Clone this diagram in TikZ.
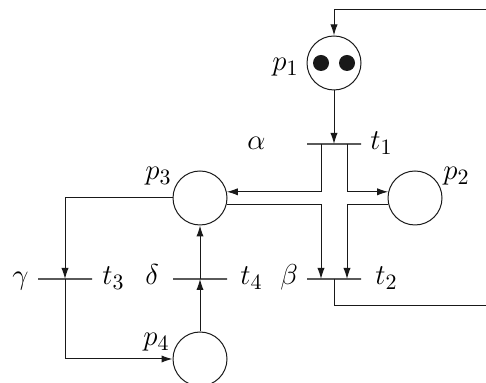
\documentclass[tikz,border=0pt]{standalone}
\usepackage{tikz}
\usetikzlibrary{arrows.meta}
\definecolor{mydark}{RGB}{25,25,25}
\definecolor{bargray}{RGB}{90,90,90}
\tikzset{
  place/.style={circle, draw=mydark, minimum size=27pt, inner sep=0pt, line width=0.5pt},
  transbar/.style={rectangle, draw=bargray, minimum width=27pt, minimum height=0pt,
    inner sep=0pt, outer sep=0pt, line width=0.75pt},
  token/.style={circle, fill=mydark, minimum size=8pt, inner sep=0pt},
  arrow/.style={-{Latex[length=5.5pt,width=3.6pt]}, line width=0.5pt, color=mydark},
  lbl/.style={anchor=base west, inner sep=0pt, font=\fontsize{15.5}{18}\selectfont}
}

\begin{document}
\begin{tikzpicture}[x=0.5pt, y=-0.5pt]
  \useasboundingbox (0,0) rectangle (486,383);

  % Places
  \node[place] (p1) at (334,63) {};
  \node[place] (p2) at (415,198) {};
  \node[place] (p3) at (200,198) {};
  \node[place] (p4) at (200,359) {};

  % Tokens in p1
  \node[token] (tok1) at (321,63) {};
  \node[token] (tok2) at (347,63) {};

  % Transitions
  \node[transbar] (t1) at (334,144) {};
  \node[transbar] (t2) at (334,279) {};
  \node[transbar] (t3) at (65,279) {};
  \node[transbar] (t4) at (200,279) {};

  % Corners of the return arc (outside the frame)
  \coordinate (se) at (494,306);
  \coordinate (ne) at (494,10);

  % Arcs
  \draw[arrow] (p1) -- (t1);
  \draw[arrow] ([xshift=-6.5pt]t1.center) |- (p3.13);
  \draw[arrow] ([xshift=6.5pt]t1.center) |- (p2.167);
  \draw[arrow] (p3.-13) -| ([xshift=-6.5pt]t2.center);
  \draw[arrow] (p2.193) -| ([xshift=6.5pt]t2.center);
  \draw[arrow] (t2) |- (se) -- (ne) -| (p1);
  \draw[arrow] (p3) -| (t3);
  \draw[arrow] (t3) |- (p4);
  \draw[arrow] (p4) -- (t4);
  \draw[arrow] (t4) -- (p3);

  % Labels
  \node[lbl] (lp1) at (272,71) {$p_1$};
  \node[lbl] (lp2) at (443,180) {$p_2$};
  \node[lbl] (lp3) at (145,180) {$p_3$};
  \node[lbl] (lp4) at (143,346) {$p_4$};
  \node[lbl] (lt1) at (370,150) {$t_1$};
  \node[lbl] (lt2) at (375,285) {$t_2$};
  \node[lbl] (lt3) at (102,285) {$t_3$};
  \node[lbl] (lt4) at (240,285) {$t_4$};
  \node[lbl] (lal) at (247,150) {$\alpha$};
  \node[lbl] (lbe) at (280,285) {$\beta$};
  \node[lbl] (lga) at (12,285) {$\gamma$};
  \node[lbl] (lde) at (145,285) {$\delta$};
\end{tikzpicture}
\end{document}
